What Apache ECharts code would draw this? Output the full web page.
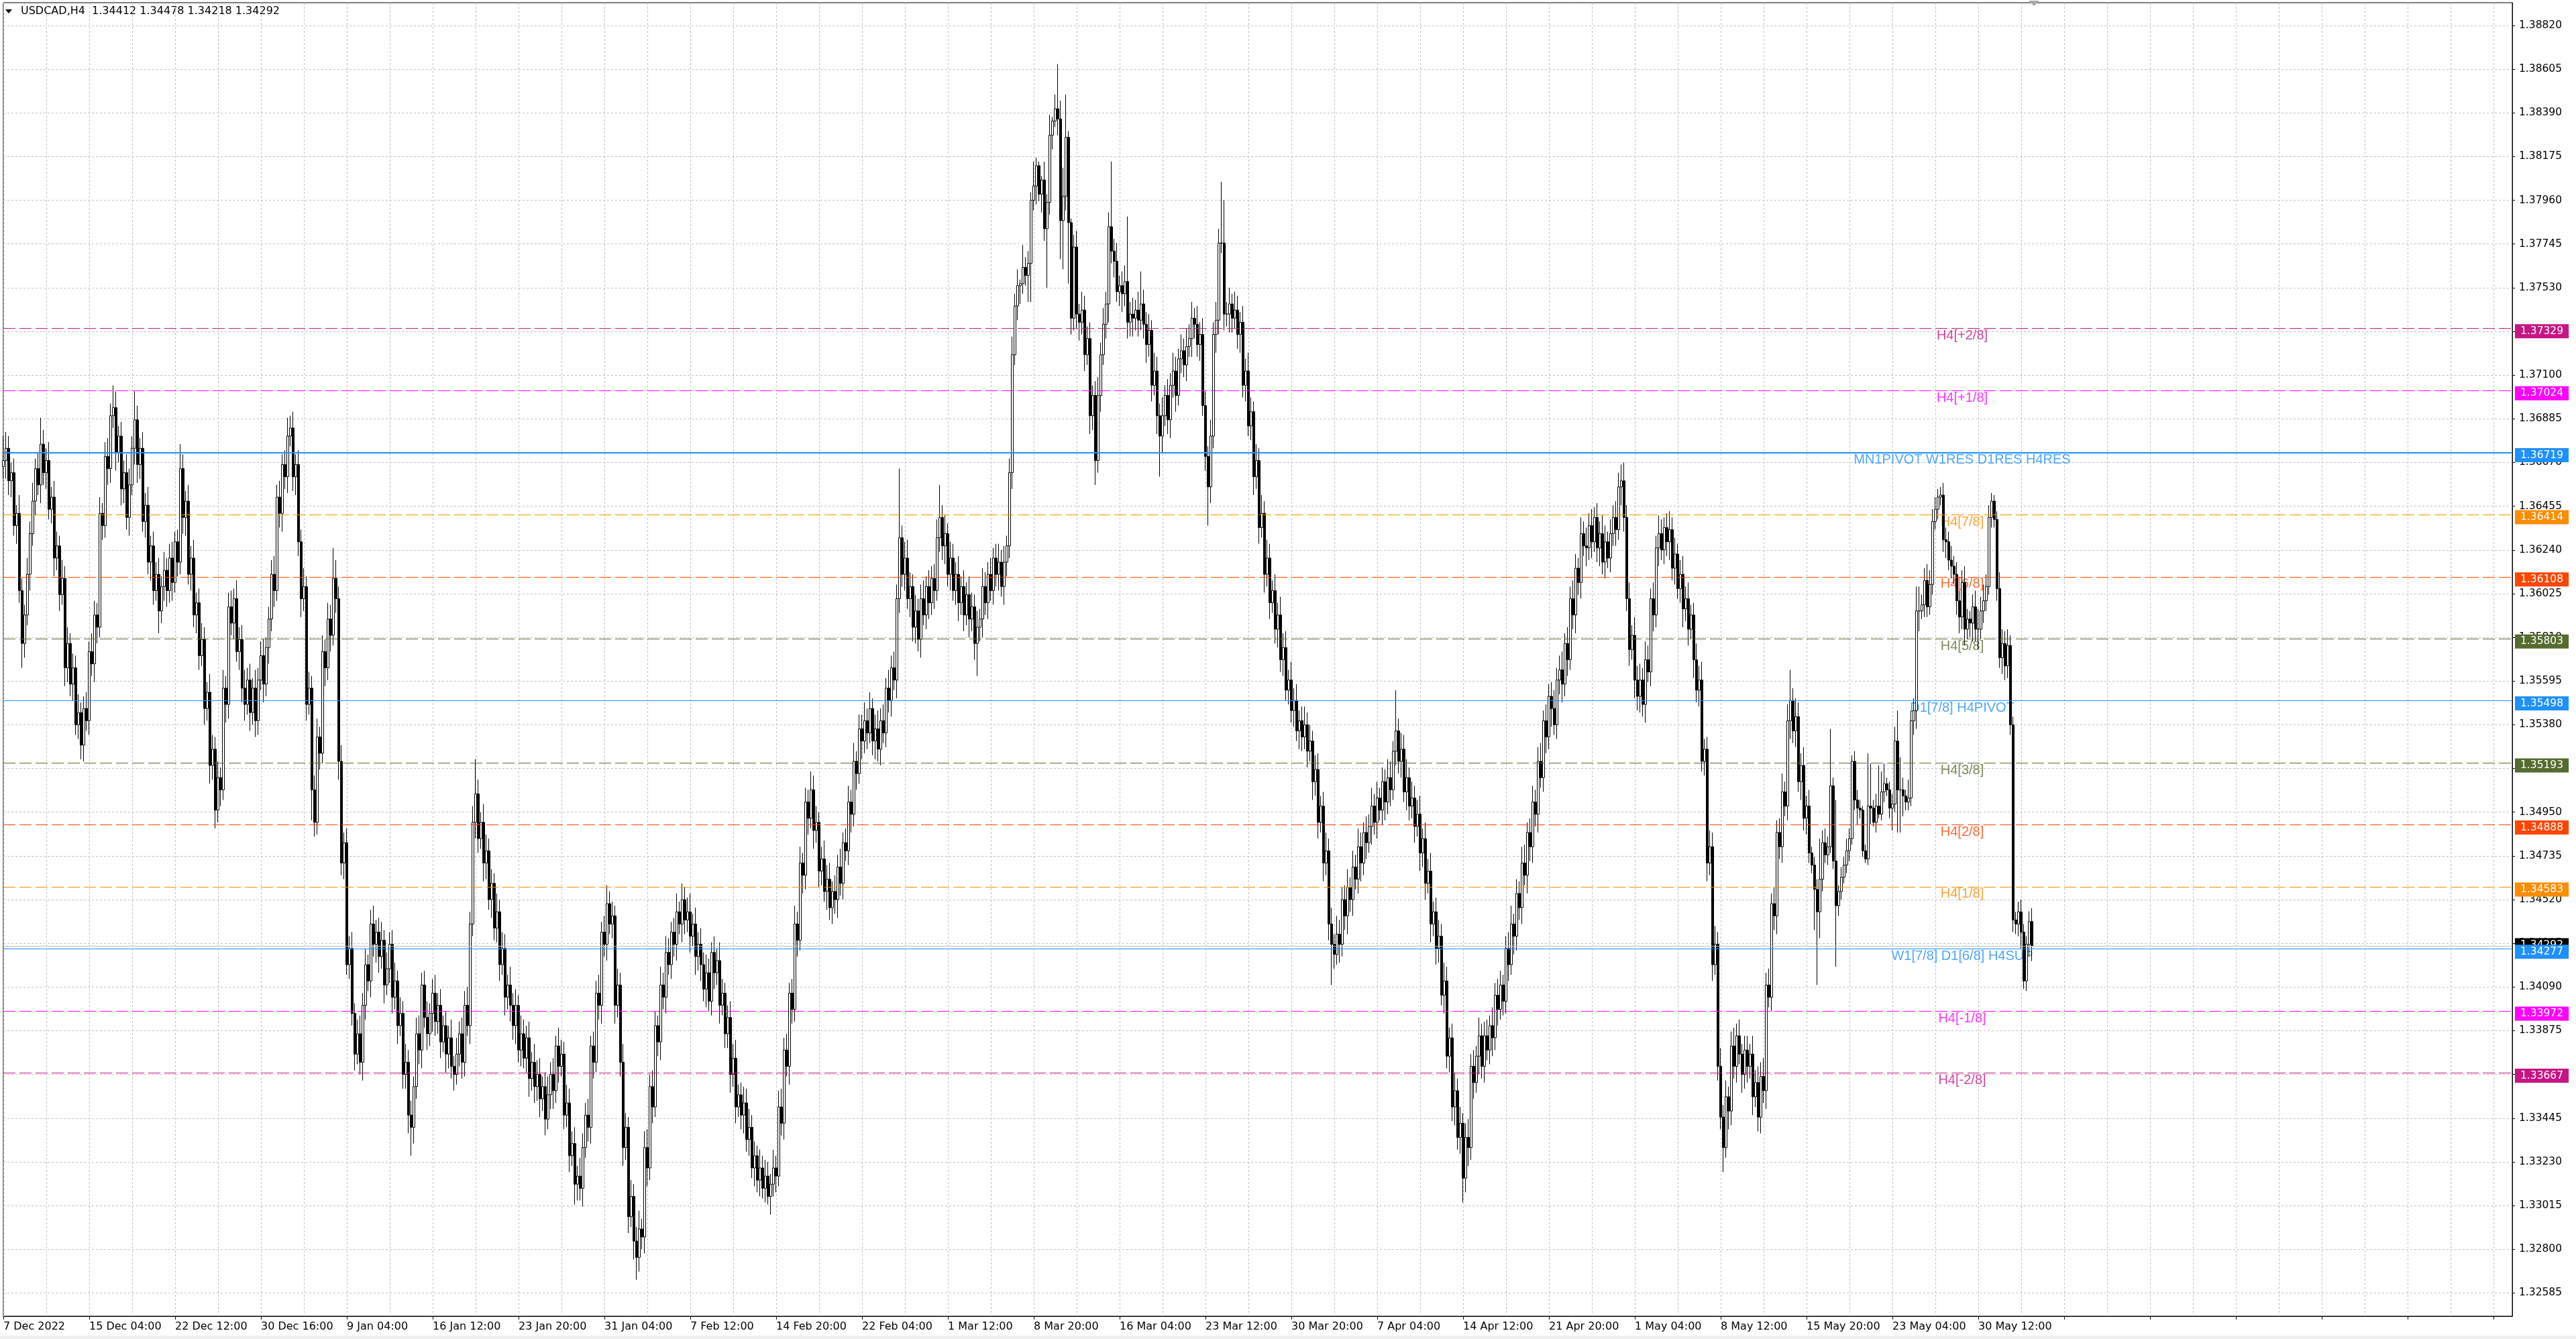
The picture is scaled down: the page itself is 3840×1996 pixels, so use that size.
<!DOCTYPE html>
<html><head><meta charset="utf-8">
<script src="https://cdn.jsdelivr.net/npm/echarts@6/dist/echarts.min.js"></script>
<style>html,body{margin:0;padding:0;background:#fff;overflow:hidden}#c{width:3840px;height:1996px}</style>
</head><body><div id="c"></div>
<script>
// ---------- DATA ----------
const headerText = 'USDCAD,H4  1.34412 1.34478 1.34218 1.34292';
const xTickLabels = ['7 Dec 2022','15 Dec 04:00','22 Dec 12:00','30 Dec 16:00','9 Jan 04:00','16 Jan 12:00','23 Jan 20:00','31 Jan 04:00','7 Feb 12:00','14 Feb 20:00','22 Feb 04:00','1 Mar 12:00','8 Mar 20:00','16 Mar 04:00','23 Mar 12:00','30 Mar 20:00','7 Apr 04:00','14 Apr 12:00','21 Apr 20:00','1 May 04:00','8 May 12:00','15 May 20:00','23 May 04:00','30 May 12:00'];
const yTickValues = [1.32585,1.32800,1.33015,1.33230,1.33445,1.33660,1.33875,1.34090,1.34305,1.34520,1.34735,1.34950,1.35165,1.35380,1.35595,1.35810,1.36025,1.36240,1.36455,1.36670,1.36885,1.37100,1.37315,1.37530,1.37745,1.37960,1.38175,1.38390,1.38605,1.38820];
// closes in 0.0001 units above 1.3000 (H4 bars)
const firstOpen = 665;
const closes = [
668,674,658,662,636,642,604,578,592,612,
632,648,664,656,676,662,668,644,650,620,
626,602,610,566,578,558,566,538,544,528,
546,540,574,568,592,586,642,636,670,664,
690,694,672,680,654,662,640,656,674,688,
666,674,638,646,618,626,604,612,594,606,
614,604,620,608,628,618,664,640,648,612,
620,592,598,572,580,546,554,518,526,496,
512,506,556,548,596,588,600,574,580,556,
548,560,544,556,540,560,572,558,576,590,
612,604,650,642,666,660,680,684,660,666,
628,600,606,548,556,506,490,532,524,574,
566,590,582,610,600,520,470,480,420,428,
396,376,386,372,400,420,412,440,430,436,
424,432,410,418,430,404,412,390,396,366,
372,346,340,360,386,378,410,394,386,396,
406,392,400,382,390,376,384,370,366,376,
386,372,400,390,440,490,504,482,490,470,
476,452,460,438,446,420,428,404,410,400,
390,400,378,386,374,384,364,372,360,366,
354,360,344,356,366,358,380,370,376,346,
352,326,332,312,316,310,330,346,340,380,
372,406,400,436,430,450,440,444,400,410,
372,330,340,296,306,284,276,290,286,330,
320,360,350,390,382,410,404,426,420,436,
430,446,440,452,442,446,434,440,424,430,
420,408,416,402,426,416,422,400,406,386,
394,366,374,350,356,346,352,334,340,320,
326,314,320,310,316,306,312,320,316,350,
342,378,370,406,398,440,432,470,464,500,
492,506,486,490,466,472,456,462,448,456,
452,468,460,480,476,500,494,520,514,536,
530,540,534,546,530,536,526,540,534,556,
550,566,560,600,630,612,620,600,606,586,
594,580,600,592,606,598,610,604,630,640,
626,632,612,620,604,612,598,606,592,602,
590,596,578,586,590,606,598,612,604,620,
612,618,606,618,626,662,720,744,754,755,
763,759,765,796,803,813,799,806,782,795,
828,835,841,836,786,798,827,785,738,773,
740,736,742,720,728,690,700,668,700,720,
735,745,783,771,766,751,754,750,756,736,
740,738,742,737,745,735,725,732,705,712,
690,680,690,700,688,705,712,700,718,722,
715,724,728,738,735,725,730,695,670,655,
680,730,737,775,775,740,740,745,738,742,
730,736,705,712,685,692,660,668,635,642,
612,620,598,604,585,592,570,576,555,560,
545,550,535,540,532,538,525,530,510,516,
490,498,470,476,440,430,425,435,430,452,
444,458,452,468,462,478,470,485,480,488,
498,490,502,496,510,500,512,506,525,535,
520,526,505,512,498,502,488,494,475,482,
460,466,440,446,428,434,405,412,375,384,
350,358,335,342,315,335,330,370,362,375,
385,370,385,378,390,384,405,398,410,402,
428,420,440,434,455,448,470,464,485,478,
500,494,520,512,540,532,552,546,538,560,
565,558,578,570,600,592,615,608,632,626,
625,636,628,640,625,632,618,628,620,632,
640,634,655,658,640,600,575,582,560,552,
560,548,570,564,600,592,625,632,624,635,
628,634,615,622,605,612,595,600,585,592,
570,555,560,520,526,470,478,420,430,370,
345,330,355,348,380,370,385,376,366,378,
370,376,355,362,345,365,358,410,404,450,
444,485,478,505,498,540,550,535,542,510,
518,492,498,475,469,457,446,462,480,474,
478,508,471,449,456,463,469,476,482,520,
501,497,496,476,472,498,497,490,498,494,
505,509,506,497,499,530,506,506,503,500,
502,540,545,594,594,597,609,596,607,638,
644,650,651,629,628,619,616,612,599,591,
608,585,590,588,596,585,585,594,599,606,
640,648,639,605,571,578,567,577,538,442,
440,446,436,412,430,441.2,429.2];
// upper wick (pips above max(open,close))
const upWick = [
12,8,6,5,7,4,9,6,5,8, 6,9,5,8,13,7,6,9,5,8, 7,5,9,6,8,5,7,6,9,5, 6,8,5,9,7,6,8,5,7,9,
6,11,8,5,7,6,9,8,6,14, 7,5,8,6,9,5,7,6,8,5, 9,6,7,8,5,6,12,7,5,8, 6,9,5,7,8,6,5,9,7,6,
8,5,9,6,7,8,5,9,6,7, 9,6,8,5,9,6,7,8,5,6, 7,9,6,8,5,7,9,6,8,5, 7,6,9,5,8,6,7,9,5,8,
6,8,7,15,9,6,8,5,7,6, 8,5,7,9,6,8,5,7,9,6, 7,9,5,8,6,7,9,5,8,6, 9,6,7,5,8,9,6,7,8,5,
7,9,6,8,5,7,6,9,5,8, 6,8,7,9,6,8,17,7,5,9, 8,6,7,5,9,6,8,7,5,9, 6,8,5,9,7,6,8,5,9,7,
8,5,7,9,6,8,5,9,7,6, 9,7,6,8,5,9,7,6,8,5, 7,6,9,5,8,9,6,7,5,8, 6,9,7,5,8,6,7,9,5,8,
9,6,8,7,5,9,6,8,7,5, 7,9,5,8,6,7,9,5,8,6, 8,6,9,7,5,8,6,9,7,5, 6,8,7,9,5,6,8,7,9,6,
7,5,9,6,8,7,5,9,6,8, 9,6,8,5,7,9,6,8,5,7, 6,9,7,8,5,6,9,7,8,5, 8,6,9,5,7,8,6,9,5,7,
7,9,6,8,5,7,9,6,8,5, 9,6,8,7,34,6,8,9,7,6, 8,6,7,9,5,8,6,7,9,16, 6,9,5,8,7,6,9,5,8,6,
9,7,6,8,5,9,7,6,8,5, 7,9,6,8,5,7,9,6,8,2, 11,5,6,4,12,4,2,2,9,4, 10,2,7,22,9,14,21,3,2,6,
8,5,9,7,6,8,5,7,9,6, 8,6,7,32,6,9,5,7,8,32, 6,8,5,9,16,7,6,8,5,9, 7,6,9,5,8,6,9,7,5,8,
6,9,7,8,5,9,6,8,7,5, 8,6,9,7,30,21,6,8,5,9, 7,5,8,6,9,7,5,8,6,9, 6,9,7,5,8,6,9,7,8,5,
9,6,8,5,7,9,6,8,5,7, 8,5,7,9,6,8,5,9,7,6, 7,9,5,8,6,9,7,5,8,6, 9,6,8,5,7,6,9,8,5,20,
6,8,7,9,5,8,6,7,9,5, 8,6,9,5,7,8,6,9,7,5, 7,9,6,8,5,7,9,6,8,5, 9,6,7,8,5,9,6,8,7,5,
6,8,9,5,7,6,8,9,5,7, 8,6,7,9,5,8,6,7,9,6, 7,9,5,8,6,9,7,5,8,6, 9,6,8,5,7,6,9,8,5,7,
6,8,7,8,9,6,8,5,9,7, 8,6,9,7,5,8,6,9,7,5, 7,9,6,8,5,7,9,6,8,5, 6,8,7,9,5,6,8,7,9,6,
9,6,8,5,7,9,6,8,5,7, 7,5,9,6,8,7,9,6,8,5, 8,6,7,9,5,8,15,6,9,7, 6,9,5,8,3,4,5,20,6,7,
5,28,4,30,3,5,4,6,5,3, 5,5,4,2,3,26,21,4,6,20, 10,10,3,4,5,7,15,16,6,3, 9,5,6,12,12,5,6,8,7,6,
6,4,4,6,6,5,7,5,6,5, 6,8,5,4,6,8,10,7,8,6, 6,4,3,4,8,7,6,8,5,4,
4,5,6,4,4,5,6.6];
// lower wick (pips below min(open,close))
const dnWick = [
6,9,7,8,5,9,6,12,7,5, 8,6,7,5,9,6,8,5,7,9, 6,8,5,9,7,6,8,5,7,7, 8,5,7,6,9,8,5,7,6,8,
7,6,9,5,8,7,6,9,5,8, 9,7,5,8,6,9,7,5,11,6, 7,8,6,9,5,7,6,8,9,5, 8,6,9,7,5,8,6,9,7,9,
6,8,5,9,7,6,8,5,9,7, 8,5,9,6,8,7,5,9,6,8, 6,8,5,7,9,6,8,5,7,9, 7,9,6,8,5,15,7,6,8,5,
9,6,8,5,7,9,6,8,5,7, 6,8,5,6,9,7,5,8,6,9, 8,6,9,5,7,8,6,9,5,7, 7,9,14,8,6,7,9,5,8,6,
9,7,6,8,5,9,7,6,8,5, 6,8,7,5,9,6,8,7,5,9, 8,5,9,6,7,8,5,9,6,8, 7,9,6,8,5,7,9,6,8,7,
9,6,8,5,7,9,6,8,5,7, 6,8,5,10,8,6,9,5,7,8, 8,5,7,9,6,8,5,7,9,6, 7,9,6,8,5,9,11,7,6,8,
9,6,8,5,7,9,6,8,5,7, 6,8,5,9,7,6,8,5,9,7, 8,6,9,5,7,8,6,9,5,7, 7,9,6,8,5,7,9,6,8,5,
9,6,8,5,7,4,9,6,8,5, 6,8,5,9,7,6,8,5,9,7, 8,5,9,6,8,7,5,9,6,8, 7,9,6,8,5,7,9,6,8,5,
9,6,8,5,7,9,6,8,5,7, 6,8,5,9,7,6,8,5,9,7, 8,6,9,5,7,8,6,9,5,7, 7,9,6,8,5,7,9,6,8,5,
9,6,8,16,7,9,6,8,5,7, 6,8,5,9,7,6,8,5,7,9, 5,5,13,19,5,9,3.5,9,6,29, 6,7,3,8,19,24,7,30,8,6,
7,9,6,8,5,9,7,12,6,8, 5,7,9,6,8,5,7,9,6,8, 7,9,6,8,5,7,9,6,8,5, 9,20,8,5,7,9,6,8,5,7,
6,8,5,9,7,6,8,5,7,19, 8,6,9,7,5,8,6,9,7,5, 7,9,6,8,5,7,9,6,8,5, 9,6,8,5,7,9,6,8,5,7,
6,8,5,9,7,6,8,5,9,7, 8,5,9,6,8,20,7,5,9,6, 7,9,6,8,5,7,9,6,8,5, 9,6,8,5,7,9,6,8,5,7,
6,8,5,9,7,6,8,5,9,7, 8,5,9,6,8,7,5,9,6,8, 7,9,6,8,12,7,9,6,8,5, 9,6,8,5,7,9,6,8,5,7,
6,8,5,9,7,6,8,5,9,7, 8,6,9,5,7,8,6,9,5,7, 7,9,6,8,5,7,9,6,8,5, 9,6,8,5,7,9,6,8,5,7,
6,8,5,9,7,6,8,5,9,7, 8,6,9,5,7,8,6,9,5,7, 7,9,6,8,5,7,9,6,8,5, 9,6,8,5,7,9,6,8,5,7,
6,12,5,9,7,6,8,5,9,7, 8,6,9,5,7,8,6,9,5,7, 7,9,6,8,5,7,9,6,8,5, 9,6,8,5,4,20,36,13,6,4,
5,3,4,30,5,4,3,4,5,3, 5,8,4,3,2,3,8,2,5,2, 3,5,3,5,11,4,21,21,10,4, 4,4,7,9,10,4,6,5,4,5,
4,5,4,6,8,5,6,5,7,8, 6,8,5,7,9,6,10,5,6,5, 4,5,4,6,5,8,7,6,5,6,
5,6,8,4,5,6,7.4];
// level lines (value, text, colour, solid?)
const levelValues = [1.37329,1.37024,1.36719,1.36414,1.36108,1.35803,1.35498,1.35193,1.34888,1.34583,1.34277,1.33972,1.33667];
const levelNames  = ['H4[+2/8]','H4[+1/8]','MN1PIVOT W1RES D1RES H4RES','H4[7/8]','H4[6/8]','H4[5/8]','D1[7/8] H4PIVOT','H4[3/8]','H4[2/8]','H4[1/8]','W1[7/8] D1[6/8] H4SUP','H4[-1/8]','H4[-2/8]'];
const levelColors = ['#C71585','#FF00FF','#1E90FF','#FF8C00','#FF4500','#556B2F','#1E90FF','#556B2F','#FF4500','#FF8C00','#1E90FF','#FF00FF','#C71585'];
const levelSolid  = [false,false,true,false,false,false,true,false,false,false,true,false,false];
const bidPrice = 1.34292;
const labelBarIndex = 730;

// ---------- BUILD ----------
const N_SLOTS = 936;
const cats = [];
for (let i = 0; i < N_SLOTS; i++) cats.push(i % 32 === 0 && xTickLabels[i / 32] ? xTickLabels[i / 32] : '');
const toP = v => +(1.3 + v / 10000).toFixed(5);
const ohlc = closes.map((c, i) => {
  const o = i === 0 ? firstOpen : closes[i - 1];
  const hi = Math.max(o, c) + upWick[i];
  const lo = Math.min(o, c) - dnWick[i];
  return [toP(o), toP(c), toP(lo), toP(hi)];
});

const tagLabel = (bg, dy) => ({
  show: true, position: 'end', distance: 4, offset: [0, dy],
  formatter: p => Number(p.value).toFixed(5),
  color: '#fff', backgroundColor: bg, padding: [3, 8, 2, 8],
  fontSize: 15.5, fontFamily: 'DejaVu Sans'
});
const markData = [{
  yAxis: bidPrice,
  lineStyle: { color: '#c0c0c0', type: 'solid', width: 1 },
  label: tagLabel('#000', -1)
}];
levelValues.forEach((v, i) => markData.push({
  yAxis: v,
  lineStyle: { color: levelColors[i], type: levelSolid[i] ? 'solid' : [18, 6], width: i === 2 ? 2 : 1 },
  label: tagLabel(levelColors[i], 4)
}));

const chart = echarts.init(document.getElementById('c'), null, { renderer: 'canvas' });
chart.setOption({
  animation: false,
  backgroundColor: '#ffffff',
  grid: { left: 5, right: 95, top: 4, bottom: 34, show: true, borderColor: '#000', borderWidth: 1, backgroundColor: 'transparent' },
  xAxis: {
    type: 'category', data: cats, boundaryGap: false,
    axisLine: { show: true, lineStyle: { color: '#000', width: 1 } },
    axisTick: { show: true, interval: 31, length: 5, lineStyle: { color: '#000' } },
    axisLabel: { show: true, interval: 31, align: 'left', margin: 8, color: '#000', fontSize: 16, fontFamily: 'DejaVu Sans' },
    splitLine: { show: true, interval: 15, lineStyle: { color: '#c0c0c0', type: [3, 3], width: 1 } }
  },
  yAxis: {
    type: 'value', position: 'right', scale: true,
    min: 1.324708, max: 1.389319,
    axisLine: { show: true, lineStyle: { color: '#000', width: 1 } },
    axisTick: { show: true, length: 4, customValues: yTickValues, lineStyle: { color: '#000' } },
    axisLabel: { show: true, customValues: yTickValues, margin: 10, color: '#000', fontSize: 15.5, fontFamily: 'DejaVu Sans', formatter: v => v.toFixed(5) },
    splitLine: { show: true, lineStyle: { color: '#c0c0c0', type: [3, 3], width: 1 } }
  },
  series: [
    {
      type: 'scatter', z: 1, silent: true, symbolSize: 0,
      data: levelValues.map((v, i) => ({
        value: [labelBarIndex, v],
        label: { show: true, formatter: levelNames[i], color: levelColors[i] }
      })),
      label: { show: true, position: 'bottom', distance: 1, fontSize: 20, fontFamily: 'Liberation Sans' },
      markLine: { silent: true, precision: 5, symbol: ['none', 'none'], data: markData, animation: false }
    },
    {
      type: 'candlestick', z: 3, data: ohlc, barWidth: 3, large: false, progressive: 0, silent: true,
      itemStyle: { color: '#ffffff', color0: '#000000', borderColor: '#000000', borderColor0: '#000000', borderWidth: 1 }
    }
  ],
  graphic: [
    { type: 'polygon', shape: { points: [[8, 14], [18, 14], [13, 20]] }, style: { fill: '#000' } },
    { type: 'text', left: 31, top: 9, style: { text: headerText, fill: '#000', font: '16px "DejaVu Sans"' } },
    { type: 'polygon', shape: { points: [[3024, 1], [3040, 1], [3032, 9]] }, style: { fill: '#a8a8a8' } },
    { type: 'rect', shape: { x: 0, y: 1991, width: 3840, height: 5 }, style: { fill: '#f0f0f0' } }
  ]
});
</script></body></html>
